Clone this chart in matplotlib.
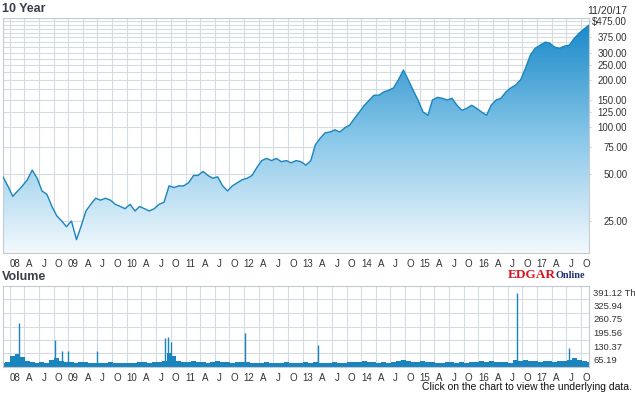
import numpy as np
import pandas as pd
import matplotlib
matplotlib.use('Agg')
import matplotlib.pyplot as plt
from matplotlib.colors import LinearSegmentedColormap
from matplotlib.transforms import ScaledTranslation

plt.rcParams['font.family'] = ['Liberation Sans', 'DejaVu Sans']

# monthly closes (20th of each month), 11/2007 .. 11/2017
price = [48, 42, 36, 39, 42, 46, 53, 47, 39, 37,
         31, 27, 25, 23, 25, 19, 23, 29, 32, 35,
         34, 35, 34, 32, 31, 30, 32, 29, 31, 30,
         29, 30, 32, 33, 42, 41, 42, 42, 44, 49,
         49, 52, 49, 47, 48, 42, 39, 42, 44, 46,
         47, 49, 55, 61, 63, 61, 63, 60, 61, 59,
         61, 60, 57, 61, 77, 85, 92, 93, 96, 93,
         99, 103, 114, 125, 138, 149, 160, 160, 168, 172,
         178, 201, 232, 201, 172, 149, 125, 119, 149, 155,
         153, 149, 153, 138, 128, 132, 138, 132, 125, 119,
         138, 149, 153, 168, 178, 186, 201, 238, 290, 320,
         335, 350, 345, 325, 320, 330, 335, 370, 400, 425,
         450]

# typical monthly volume level (thousands)
volume = [20, 25, 55, 65, 50, 30, 25, 20, 22, 20,
          35, 45, 30, 25, 25, 20, 25, 22, 20, 20,
          18, 20, 22, 20, 18, 20, 18, 20, 25, 22,
          20, 22, 25, 30, 70, 55, 30, 22, 25, 28,
          25, 22, 20, 22, 30, 25, 22, 20, 25, 22,
          25, 20, 18, 20, 22, 20, 18, 20, 22, 18,
          20, 18, 25, 20, 22, 20, 18, 20, 22, 20,
          20, 22, 25, 22, 30, 25, 22, 20, 22, 20,
          22, 28, 35, 30, 25, 22, 30, 25, 22, 20,
          20, 22, 25, 20, 22, 20, 22, 25, 30, 25,
          28, 22, 25, 22, 20, 35, 30, 35, 30, 28,
          25, 28, 30, 25, 28, 30, 35, 45, 35, 30,
          25]

# single-day volume spikes
spike_dates = ['2008-02-28', '2008-10-09', '2008-11-22', '2008-12-29', '2009-06-28',
               '2010-08-26', '2010-09-14', '2010-10-02', '2012-01-07', '2013-04-07',
               '2016-08-30', '2017-07-19']
spike_vals = [212, 130, 77, 77, 77, 140, 147, 120, 165, 106, 357, 92]

price_ticks = [25, 50, 75, 100, 125, 150, 200, 250, 300, 375, 475]
price_labels = ['25.00', '50.00', '75.00', '100.00', '125.00', '150.00', '200.00',
                '250.00', '300.00', '375.00', '$475.00']
price_grid = list(range(25, 501, 25))

vol_top = 391.12
vol_ticks = [65.19, 130.37, 195.56, 260.75, 325.94, 391.12]
vol_labels = ['65.19', '130.37', '195.56', '260.75', '325.94', '391.12 Th']

dates = pd.date_range('2007-11-20', periods=len(price), freq=pd.DateOffset(months=1))
quarters = pd.date_range('2008-01-01', '2017-10-01', freq='QS')
quarter_labels = ['%02d' % (d.year % 100) if d.month == 1 else {4: 'A', 7: 'J', 10: 'O'}[d.month]
                  for d in quarters]

x0, x1 = pd.Timestamp('2007-11-20'), pd.Timestamp('2017-11-20')
W, H = 635, 395
fig = plt.figure(figsize=(6.35, 3.95), dpi=100)
fig.patch.set_facecolor('white')

def px_axes(left, top, right, bottom):
    return fig.add_axes([left / W, 1 - bottom / H, (right - left) / W, (bottom - top) / H])

grid_c = '#d6dbe1'
spine_c = '#c6cbd1'
text_c = '#333333'
blue = '#1a84be'
offset = ScaledTranslation(5 / 100, 0, fig.dpi_scale_trans)

# ---- price panel ----
ax = px_axes(3, 18, 589, 253)
ax.set_yscale('log')
ax.set_xlim(x0, x1)
ax.set_ylim(15.6, 500)
ax.set_autoscale_on(False)
ax.set_axisbelow(True)

fill = ax.fill_between(dates, price, 1, color='none', lw=0)
cmap = LinearSegmentedColormap.from_list('g', ['#f3f9fd', '#86c6e8', '#1486c8'])
grad = np.linspace(0, 1, 256).reshape(-1, 1)
im = ax.imshow(grad, cmap=cmap, aspect='auto', extent=[0, 1, 0, 1],
               transform=ax.transAxes, origin='lower', zorder=2)
im.set_clip_path(fill.get_paths()[0], transform=ax.transData)
ax.plot(dates, price, color=blue, lw=1.0, zorder=3)

ax.set_yticks(price_grid, minor=True)
ax.set_yticks(price_ticks)
ax.set_yticklabels(price_labels)
ax.yaxis.set_minor_formatter(plt.NullFormatter())
ax.yaxis.tick_right()
ax.tick_params(axis='y', which='major', length=1.5, pad=26, colors=spine_c,
               labelcolor=text_c, labelsize=7)
ax.tick_params(axis='y', which='minor', length=0)
for lab in ax.get_yticklabels():
    lab.set_horizontalalignment('right')
ax.grid(True, which='both', axis='y', color=grid_c, lw=0.8)

ax.set_xticks(quarters)
ax.set_xticklabels(quarter_labels)
ax.tick_params(axis='x', length=0, pad=4, labelsize=7, labelcolor=text_c)
for lab in ax.get_xticklabels():
    lab.set_transform(lab.get_transform() + offset)
ax.grid(True, axis='x', color=grid_c, lw=0.8)
for s in ax.spines.values():
    s.set_color(spine_c)
    s.set_linewidth(0.8)

# ---- volume panel ----
av = px_axes(3, 286, 589, 367)
av.set_xlim(x0, x1)
av.set_ylim(0, vol_top)
av.set_axisbelow(True)
av.bar(dates, volume, width=31, color=blue, lw=0, zorder=2)
av.vlines(pd.to_datetime(spike_dates), 0, spike_vals, color=blue, lw=1.0, zorder=2)
av.set_yticks(vol_ticks)
av.set_yticklabels(vol_labels)
av.yaxis.tick_right()
av.tick_params(axis='y', length=0, pad=3, labelsize=6.8, labelcolor=text_c)
voff = ScaledTranslation(0, -6 / 100, fig.dpi_scale_trans)
for lab in av.get_yticklabels():
    lab.set_transform(lab.get_transform() + voff)
av.set_xticks(quarters)
av.set_xticklabels(quarter_labels)
av.tick_params(axis='x', length=0, pad=4, labelsize=7, labelcolor=text_c)
for lab in av.get_xticklabels():
    lab.set_transform(lab.get_transform() + offset)
av.grid(True, color=grid_c, lw=0.8)
for s in av.spines.values():
    s.set_color(spine_c)
    s.set_linewidth(0.8)

# ---- texts ----
fig.text(2 / W, 1 - 9 / H, '10 Year', fontsize=9, weight='bold', color='#3b3f48', va='center')
fig.text(2 / W, 1 - 277 / H, 'Volume', fontsize=9, weight='bold', color='#3b3f48', va='center')
fig.text(627 / W, 1 - 11 / H, '11/20/17', fontsize=7.5, color=text_c, ha='right', va='center')
fig.text(632 / W, 1 - 387 / H, 'Click on the chart to view the underlying data.',
         fontsize=7.5, color='#111111', ha='right', va='center')
fig.text(508 / W, 1 - 275 / H, 'EDGAR', fontsize=9.5, weight='bold', color='#d8141c',
         family='Liberation Serif', va='center')
fig.text(555 / W, 1 - 276 / H, 'Online', fontsize=7.3, weight='bold', color='#1c2f6e',
         family='Liberation Serif', va='center')

fig.savefig('out.png', dpi=100, facecolor='white')
